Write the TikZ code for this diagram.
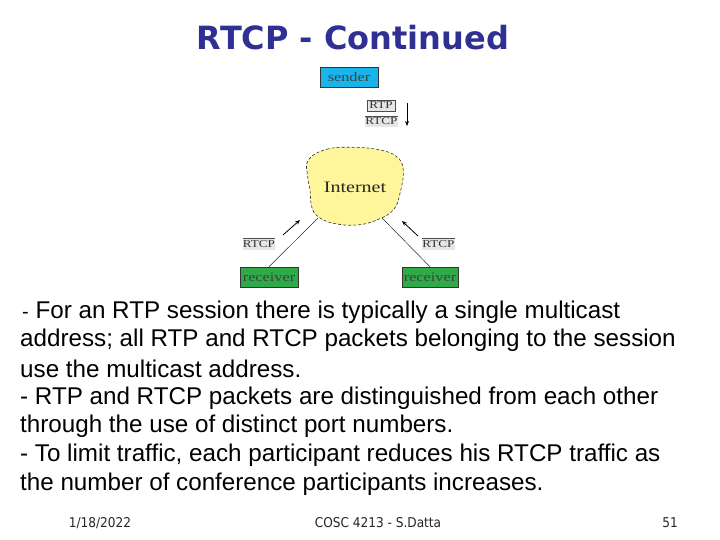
\documentclass[tikz,border=0pt]{standalone}
\usetikzlibrary{arrows.meta}
\usepackage{graphicx}
\usepackage{fontspec}
\setmainfont{Liberation Sans}
\newfontfamily\titlefont{DejaVu Sans}
\newfontfamily\footfont{DejaVu Sans Condensed}
\newfontfamily\diagfont{Liberation Serif}
\definecolor{titleblue}{HTML}{2E3192}
\definecolor{sendercyan}{HTML}{1AB4EA}
\definecolor{recvgreen}{HTML}{2FAA48}
\definecolor{cloudyellow}{HTML}{FFF59A}
\definecolor{labelgray}{HTML}{E6E6E6}
\newcommand{\widen}[1]{\scalebox{1.25}[1]{#1}}
\begin{document}
\begin{tikzpicture}[x=1pt,y=-1pt,
  bodyline/.style={anchor=west,inner sep=0pt,font=\fontsize{24.2}{28}\selectfont},
  footer/.style={inner sep=0pt,font=\footfont\fontsize{13.5}{15}\selectfont,text=black!85},
  hostbox/.style={draw=black!80,line width=0.5pt,inner sep=0pt,minimum height=20pt,font=\diagfont\fontsize{13}{14}\selectfont,text=black!75},
  pktlabel/.style={fill=labelgray,inner sep=0pt,minimum height=11pt,font=\diagfont\fontsize{10.5}{11}\selectfont,text=black!80},
  pktbox/.style={pktlabel,draw=black!70,line width=0.5pt},
  link/.style={draw=black!85,line width=0.5pt},
  flow/.style={draw=black,line width=0.8pt,-{Stealth[length=5pt,width=4pt]}}
  ]
\useasboundingbox (0,0) rectangle (720,540);
% title
\node[font=\titlefont\bfseries\fontsize{32}{36}\selectfont,text=titleblue,inner sep=0pt] (title) at (353,38) {RTCP - Continued};
% diagram
\node[hostbox,fill=sendercyan,minimum width=58pt] (sender) at (349,77.5) {\widen{sender}};
\node[pktbox,minimum width=28pt] (rtp) at (381,105.5) {\widen{RTP}};
\node[pktlabel,minimum width=29pt] (rtcp) at (381.5,121.5) {\widen{RTCP}};
\draw[black!70,line width=0.5pt] (rtcp.north west) -- (rtcp.north east);
\coordinate (dtop) at (407,103);
\coordinate (dbot) at (407,126);
\draw[flow] (dtop) -- (dbot);
\draw[fill=cloudyellow,draw=black!80,line width=0.6pt,densely dashed] plot[smooth cycle,tension=0.7] coordinates {
 (308.3,160) (326.7,149.3) (353.3,147.3) (380,150) (396.7,156.7) (403.3,170)
 (400,193.3) (393.3,210) (376.7,220) (356.7,225) (333.3,223.3) (318.3,216.7)
 (311.7,206.7) (310,190) (307.7,176.7)};
\node[font=\diagfont\fontsize{16}{18}\selectfont,text=black!85,inner sep=0pt] (internet) at (355,187) {\widen{Internet}};
\coordinate (cloudL) at (318,218);
\coordinate (cloudR) at (382,218);
\node[hostbox,fill=recvgreen,minimum width=58pt] (recvL) at (269,277) {\widen{receiver}};
\node[hostbox,fill=recvgreen,minimum width=56pt] (recvR) at (430,277) {\widen{receiver}};
\draw[link] (recvL.north) -- (cloudL);
\draw[link] (recvR.north) -- (cloudR);
\coordinate (aL1) at (283,235);
\coordinate (aL2) at (300,220);
\coordinate (aR1) at (418,236);
\coordinate (aR2) at (402,221);
\draw[flow] (aL1) -- (aL2);
\draw[flow] (aR1) -- (aR2);
\node[pktlabel,minimum width=30pt] (rtcpL) at (259,244) {\widen{RTCP}};
\draw[black!70,line width=0.5pt] (rtcpL.north west) -- (rtcpL.north east);
\node[pktlabel,minimum width=29pt] (rtcpR) at (438.5,244) {\widen{RTCP}};
\draw[black!70,line width=0.5pt] (rtcpR.north west) -- (rtcpR.north east);
% body text
\node[bodyline] (l1) at (22,312) {{\fontsize{20}{22}\selectfont -} For an RTP session there is typically a single multicast};
\node[bodyline] (l2) at (20,340) {address; all RTP and RTCP packets belonging to the session};
\node[bodyline] (l3) at (20,369) {use the multicast address.};
\node[bodyline] (l4) at (20,398) {- RTP and RTCP packets are distinguished from each other};
\node[bodyline] (l5) at (20,426) {through the use of distinct port numbers.};
\node[bodyline] (l6) at (20,455) {- To limit traffic, each participant reduces his RTCP traffic as};
\node[bodyline] (l7) at (20,484) {the number of conference participants increases.};
% footer
\node[footer] (date) at (100,523) {1/18/2022};
\node[footer] (course) at (378,523) {COSC 4213 - S.Datta};
\node[footer] (page) at (670,523) {51};
\end{tikzpicture}
\end{document}
